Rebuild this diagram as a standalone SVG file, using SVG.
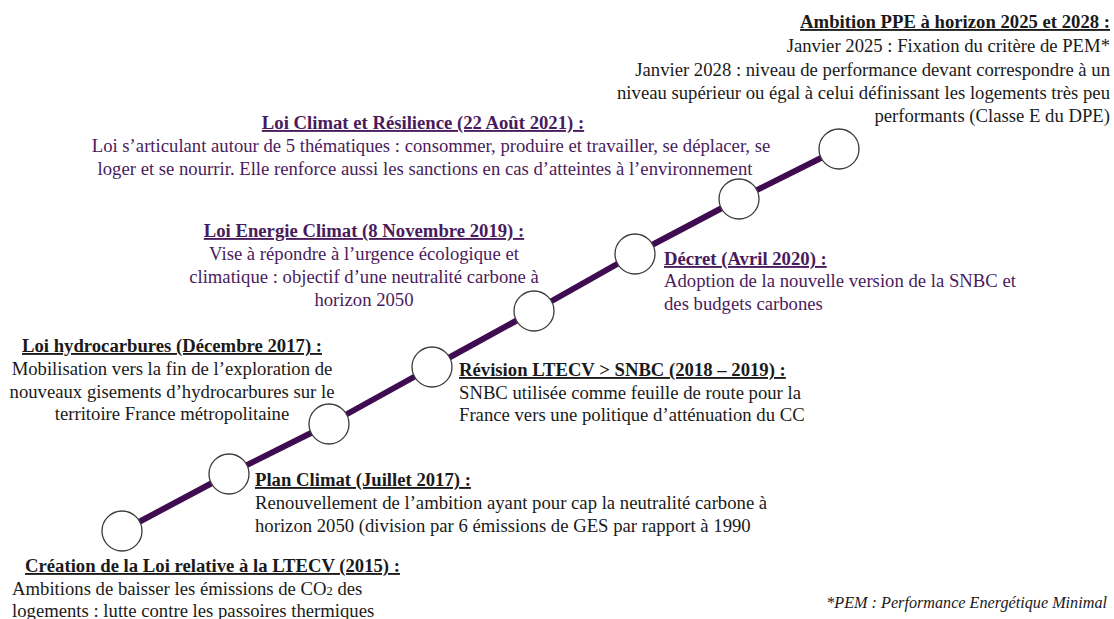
<svg xmlns="http://www.w3.org/2000/svg" width="1114" height="619" viewBox="0 0 1114 619">
<style>
text{font-family:"Liberation Serif","Times New Roman",serif;font-size:18.7px;fill:#1a1a1a}
.t{font-weight:bold;text-decoration:underline}
.p{fill:#4a1b5c}
.c{fill:#fff;stroke:#3a3a3a;stroke-width:1.3}
.l{stroke:#3f0c52;stroke-width:6;stroke-linecap:butt}
.m{text-anchor:middle}
.e{text-anchor:end}
.fn{font-style:italic;font-size:16.2px}
</style>
<rect width="1114" height="619" fill="#fff"/>
<g id="connectors">
<line class="l" x1="122" y1="531" x2="229" y2="474"/>
<line class="l" x1="229" y1="474" x2="329" y2="424"/>
<line class="l" x1="329" y1="424" x2="432" y2="367"/>
<line class="l" x1="432" y1="367" x2="534" y2="311"/>
<line class="l" x1="534" y1="311" x2="635" y2="254"/>
<line class="l" x1="635" y1="254" x2="739" y2="199"/>
<line class="l" x1="739" y1="199" x2="839" y2="149"/>
</g>
<g id="n1">
<circle class="c" cx="122" cy="531" r="20"/>
<text class="t" x="25" y="572">Création de la Loi relative à la LTECV (2015) :</text>
<text x="12" y="595">Ambitions de baisser les émissions de CO<tspan font-size="12.5">2</tspan> des</text>
<text x="12" y="617">logements : lutte contre les passoires thermiques</text>
</g>
<g id="n2">
<circle class="c" cx="229" cy="474" r="20"/>
<text class="t" x="255" y="486">Plan Climat (Juillet 2017) :</text>
<text x="255" y="509">Renouvellement de l’ambition ayant pour cap la neutralité carbone à</text>
<text x="255" y="532">horizon 2050 (division par 6 émissions de GES par rapport à 1990</text>
</g>
<g id="n3">
<circle class="c" cx="329" cy="424" r="20"/>
<text class="t m" x="172" y="352">Loi hydrocarbures (Décembre 2017) :</text>
<text class="m" x="172" y="375">Mobilisation vers la fin de l’exploration de</text>
<text class="m" x="172" y="398">nouveaux gisements d’hydrocarbures sur le</text>
<text class="m" x="172" y="420">territoire France métropolitaine</text>
</g>
<g id="n4">
<circle class="c" cx="432" cy="367" r="20"/>
<text class="t" x="459" y="376">Révision LTECV &gt; SNBC (2018 – 2019) :</text>
<text x="459" y="399">SNBC utilisée comme feuille de route pour la</text>
<text x="459" y="421">France vers une politique d’atténuation du CC</text>
</g>
<g id="n5">
<circle class="c" cx="534" cy="311" r="20"/>
<text class="t m p" x="364" y="237">Loi Energie Climat (8 Novembre 2019) :</text>
<text class="m p" x="364" y="260">Vise à répondre à l’urgence écologique et</text>
<text class="m p" x="364" y="283">climatique : objectif d’une neutralité carbone à</text>
<text class="m p" x="364" y="306">horizon 2050</text>
</g>
<g id="n6">
<circle class="c" cx="635" cy="254" r="20"/>
<text class="t p" x="664" y="265">Décret (Avril 2020) :</text>
<text class="p" x="664" y="287">Adoption de la nouvelle version de la SNBC et</text>
<text class="p" x="664" y="310">des budgets carbones</text>
</g>
<g id="n7">
<circle class="c" cx="739" cy="199" r="20"/>
<text class="t m p" x="423" y="129">Loi Climat et Résilience (22 Août 2021) :</text>
<text class="m p" x="431" y="152">Loi s’articulant autour de 5 thématiques : consommer, produire et travailler, se déplacer, se</text>
<text class="m p" x="425" y="175">loger et se nourrir. Elle renforce aussi les sanctions en cas d’atteintes à l’environnement</text>
</g>
<g id="n8">
<circle class="c" cx="839" cy="149" r="20"/>
<text class="t e" x="1110" y="28">Ambition PPE à horizon 2025 et 2028 :</text>
<text class="e" x="1110" y="52">Janvier 2025 : Fixation du critère de PEM*</text>
<text class="e" x="1110" y="76">Janvier 2028 : niveau de performance devant correspondre à un</text>
<text class="e" x="1110" y="99">niveau supérieur ou égal à celui définissant les logements très peu</text>
<text class="e" x="1110" y="122">performants (Classe E du DPE)</text>
</g>
<text class="fn e" x="1107" y="608">*PEM : Performance Energétique Minimal</text>
</svg>
